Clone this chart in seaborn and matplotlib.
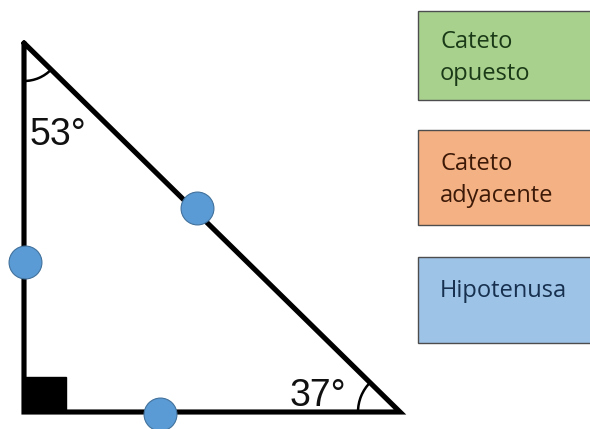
import matplotlib
matplotlib.use("Agg")
import matplotlib.pyplot as plt
import seaborn as sns
import pandas as pd
from matplotlib.patches import Rectangle, Arc

# triangle drawn in pixel units of the picture (y grows downwards)
vertex_x = [24, 24, 400, 24]
vertex_y = [43, 412, 412, 43]

# blue points sitting on each side
point_x = [197, 25, 160]
point_y = [208, 262, 414]

angle_labels = ["53°", "37°"]
angle_label_x = [30, 290]
angle_label_y = [145, 406]

box_labels = ["Cateto\nopuesto", "Cateto\nadyacente", "Hipotenusa"]
box_colors = ["#a9d18e", "#f4b183", "#9dc3e6"]
box_text_colors = ["#1b3a17", "#3d1a08", "#17304f"]
box_top = [11, 130, 257]
box_bottom = [100, 225, 343]
box_baseline = [80, 202, 297]  # baseline of the last text line

sns.set_theme(style="white")
fig = plt.figure(figsize=(5.9, 4.29), dpi=100)
ax = fig.add_axes([0, 0, 1, 1])
ax.set_xlim(0, 590)
ax.set_ylim(429, 0)
ax.axis("off")

tri = pd.DataFrame({"x": vertex_x, "y": vertex_y})
sns.lineplot(data=tri, x="x", y="y", sort=False, estimator=None,
             color="black", linewidth=3.7, ax=ax)
ax.lines[-1].set_solid_joinstyle("miter")

# right angle mark
ax.add_patch(Rectangle((24, 377), 42, 35, color="black", zorder=2))

# angle arcs (y axis is inverted, so angles run clockwise on screen)
ax.add_patch(Arc((24, 43), 76, 76, theta1=44, theta2=90,
                 color="black", lw=1.8, zorder=2))
ax.add_patch(Arc((400, 412), 84, 84, theta1=180, theta2=225,
                 color="black", lw=1.8, zorder=2))

pts = pd.DataFrame({"x": point_x, "y": point_y})
sns.scatterplot(data=pts, x="x", y="y", s=560, color="#5b9bd5",
                edgecolor="#41719c", linewidth=0.8, zorder=5, ax=ax)

for lab, lx, ly in zip(angle_labels, angle_label_x, angle_label_y):
    ax.text(lx, ly, lab, fontsize=27, family="Liberation Sans",
            color="#111111", ha="left", va="baseline")

for lab, fc, tc, top, bot, base in zip(box_labels, box_colors, box_text_colors,
                                       box_top, box_bottom, box_baseline):
    ax.add_patch(Rectangle((418, top), 180, bot - top, facecolor=fc,
                           edgecolor="#4d4d4d", lw=1.0, zorder=1))
    ax.text(440, base, lab, fontsize=17, family="Open Sans", color=tc,
            ha="left", va="baseline", linespacing=1.45)

ax.set_xlabel("")
ax.set_ylabel("")
fig.savefig("out.png", dpi=100)
